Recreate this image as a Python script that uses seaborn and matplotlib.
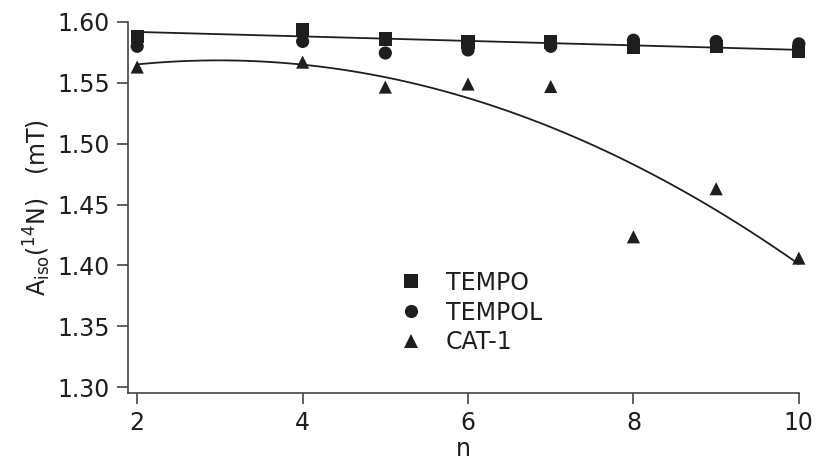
"""Isotropic 14N hyperfine coupling vs n for three nitroxides."""
import matplotlib

matplotlib.use("Agg")
import matplotlib.pyplot as plt
import numpy as np
import pandas as pd
import seaborn as sns

# values
n_values = [2, 4, 5, 6, 7, 8, 9, 10]
tempo = [1.588, 1.594, 1.586, 1.5835, 1.5835, 1.579, 1.580, 1.576]
tempol = [1.580, 1.584, 1.5745, 1.577, 1.580, 1.585, 1.584, 1.582]
cat1 = [1.563, 1.567, 1.5465, 1.549, 1.547, 1.4235, 1.463, 1.406]
series_names = ["TEMPO", "TEMPOL", "CAT-1"]
y_ticks = [1.30, 1.35, 1.40, 1.45, 1.50, 1.55, 1.60]
x_ticks = [2, 4, 6, 8, 10]

INK = "#1e1e1e"

df = pd.DataFrame(
    {
        "n": n_values * 3,
        "A": tempo + tempol + cat1,
        "compound": np.repeat(series_names, len(n_values)),
    }
)

sns.set_style("ticks")
plt.rcParams["font.family"] = ["DejaVu Sans"]
plt.rcParams["mathtext.fontset"] = "dejavusans"

fig = plt.figure(figsize=(8.16, 4.67), dpi=100)
ax = fig.add_axes([0.157, 0.158, 0.822, 0.795])

# fitted curves: linear for TEMPO, quadratic for CAT-1
sns.regplot(
    data=df[df.compound == "TEMPO"], x="n", y="A", scatter=False, ci=None,
    order=1, color=INK, line_kws={"lw": 1.3}, ax=ax,
)
sns.regplot(
    data=df[df.compound == "CAT-1"], x="n", y="A", scatter=False, ci=None,
    order=2, color=INK, line_kws={"lw": 1.3}, ax=ax,
)

sns.scatterplot(
    data=df, x="n", y="A", style="compound",
    markers={"TEMPO": "s", "TEMPOL": "o", "CAT-1": "^"},
    color=INK, s=90, linewidth=0, ax=ax, clip_on=False, zorder=3,
)

ax.set_xlim(1.89, 10.0)
ax.set_ylim(1.295, 1.60)
ax.set_xticks(x_ticks)
ax.set_yticks(y_ticks)
ax.set_yticklabels([f"{v:.2f}" for v in y_ticks])
ax.tick_params(axis="both", direction="out", length=8, width=1.2,
               colors="#444444", labelcolor=INK, labelsize=17, pad=5)
for side in ["left", "bottom"]:
    ax.spines[side].set_color("#444444")
    ax.spines[side].set_linewidth(1.2)
sns.despine(ax=ax)

ax.set_xlabel("n", fontsize=17, color=INK, labelpad=1)
ax.set_ylabel(r"A$_{\mathrm{iso}}$($^{14}$N)   (mT)", fontsize=17, color=INK,
              labelpad=3)

leg = ax.legend(
    loc="upper left", bbox_to_anchor=(0.386, 0.362), frameon=False,
    fontsize=17, handlelength=1.0, handletextpad=1.0, labelspacing=0.25,
    borderpad=0, markerscale=1.0,
)
for text in leg.get_texts():
    text.set_color(INK)

fig.savefig("out.png", dpi=100)
